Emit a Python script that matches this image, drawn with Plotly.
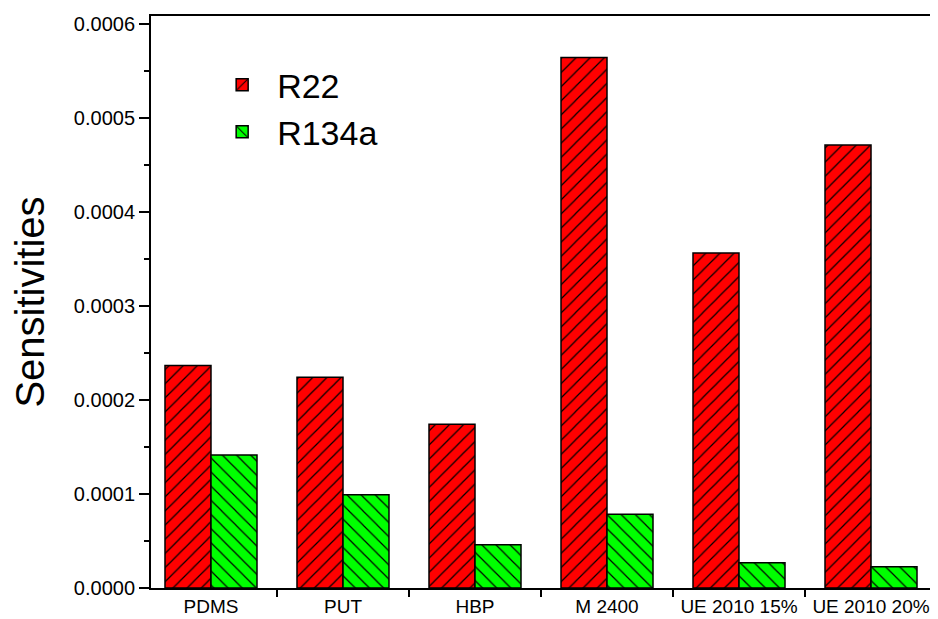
import plotly.graph_objects as go

categories = ["PDMS", "PUT", "HBP", "M 2400", "UE 2010 15%", "UE 2010 20%"]
r22 = [0.0002365, 0.000224, 0.000174, 0.000564, 0.000356, 0.000471]
r134a = [0.0001415, 0.0000990, 0.0000460, 0.0000784, 0.0000269, 0.0000227]
y_ticks = [0.0, 0.0001, 0.0002, 0.0003, 0.0004, 0.0005, 0.0006]

FONT = "Liberation Sans, Arial, sans-serif"

fig = go.Figure()
fig.add_trace(go.Bar(
    x=categories, y=r22, name="R22",
    marker=dict(color="#FF0000", line=dict(color="black", width=1.5),
                pattern=dict(shape="/", fgcolor="black", bgcolor="#FF0000",
                             size=10, solidity=0.12, fillmode="replace")),
))
fig.add_trace(go.Bar(
    x=categories, y=r134a, name="R134a",
    marker=dict(color="#00FF00", line=dict(color="black", width=1.5),
                pattern=dict(shape="\\", fgcolor="black", bgcolor="#00FF00",
                             size=10, solidity=0.12, fillmode="replace")),
))

fig.update_layout(
    width=930, height=611,
    margin=dict(l=143, r=7, t=8, b=31, autoexpand=False),
    paper_bgcolor="white", plot_bgcolor="white",
    barmode="group", bargap=0.303, bargroupgap=0,
    font=dict(family=FONT, color="black"),
    showlegend=True,
    legend=dict(x=0.072, y=0.93, xanchor="left", yanchor="top",
                font=dict(size=34, family=FONT), bgcolor="rgba(0,0,0,0)",
                itemwidth=60, tracegroupgap=0),
)
fig.update_xaxes(
    type="category", range=[-0.4545, 5.4545], automargin=False,
    showline=True, linecolor="black", linewidth=2, mirror=True,
    ticks="outside", tickson="boundaries", ticklen=7, tickwidth=2, tickcolor="black",
    tickfont=dict(size=19, family=FONT), showgrid=False,
)
fig.update_yaxes(
    range=[0, 0.000608], tickvals=y_ticks, tickformat=".4f", automargin=False,
    showline=True, linecolor="black", linewidth=2, mirror=True,
    ticks="outside", ticklen=10, tickwidth=1.5, tickcolor="black",
    minor=dict(dtick=0.00005, ticks="outside", ticklen=5, tickwidth=1.5, tickcolor="black"),
    tickfont=dict(size=20, family=FONT), showgrid=False, zeroline=False,
    title=dict(text="Sensitivities", font=dict(size=40, family=FONT), standoff=20),
)

fig.write_html("out.html")
